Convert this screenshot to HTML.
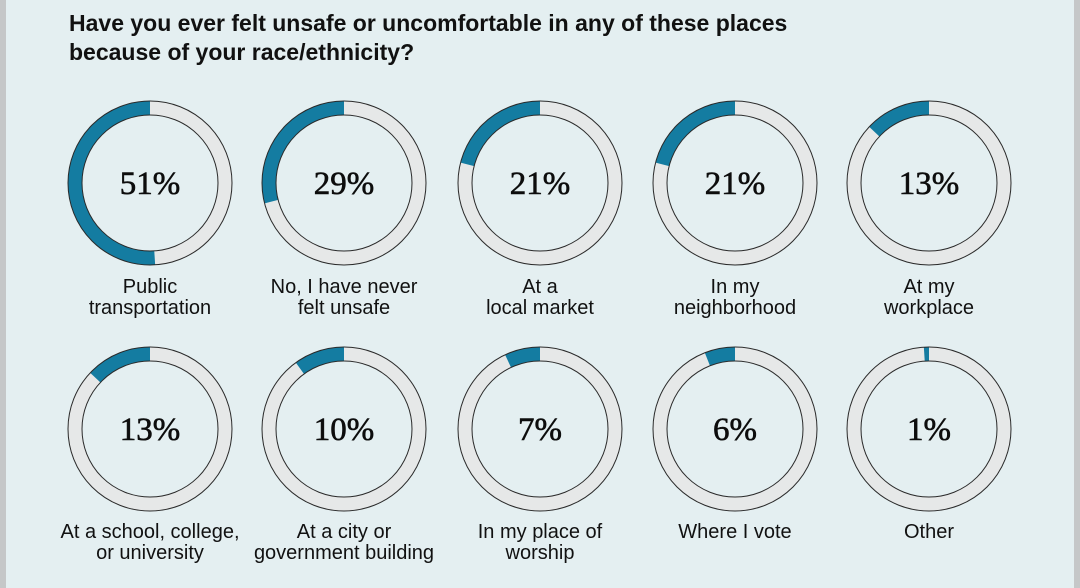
<!DOCTYPE html>
<html><head><meta charset="utf-8"><style>
html,body{margin:0;padding:0;}
body{width:1080px;height:588px;background:#e4eff1;position:relative;overflow:hidden;font-family:"Liberation Sans",sans-serif;}
.edge{position:absolute;top:0;bottom:0;background:#c5c7c8;}
h1{position:absolute;left:69px;top:9px;margin:0;font-size:23px;line-height:29px;font-weight:bold;color:#111;}
</style></head><body>
<div class="edge" style="left:0;width:6px"></div>
<div class="edge" style="right:0;width:6px"></div>
<h1>Have you ever felt unsafe or uncomfortable in any of these places<br>because of your race/ethnicity?</h1>
<svg id="chart" width="1080" height="588" style="position:absolute;left:0;top:0"></svg>
<script>
const values=[51,29,21,21,13,13,10,7,6,1];
const labelsA=["Public","No, I have never","At a","In my","At my","At a school, college,","At a city or","In my place of","Where I vote","Other"];
const labelsB=["transportation","felt unsafe","local market","neighborhood","workplace","or university","government building","worship","",""];
const NS="http://www.w3.org/2000/svg";
const svg=document.getElementById('chart');
const colX=[150,344,540,735,929], rowY=[183,429], labY=[[293,314],[538,559]];
const R=75, W=14;
function mk(t,a){const e=document.createElementNS(NS,t);for(const k in a)e.setAttribute(k,a[k]);return e;}
function pt(cx,cy,r,f){const a=-Math.PI/2-f*2*Math.PI;return [cx+r*Math.cos(a),cy+r*Math.sin(a)];}
values.forEach((v,i)=>{
  const cx=colX[i%5], cy=rowY[Math.floor(i/5)];
  const g=mk('g',{});
  
  
  const bg=mk('circle',{cx:cx,cy:cy,r:R,fill:'none',stroke:'#e6e8e8','stroke-width':W});
  
  
  g.appendChild(bg);
  const f=Math.min(v/100,0.9999);
  const [x0,y0]=pt(cx,cy,R,0),[x1,y1]=pt(cx,cy,R,f);
  const arc=mk('path',{d:`M${x0},${y0} A${R},${R} 0 ${f>0.5?1:0} 0 ${x1},${y1}`,fill:'none',stroke:'#147ca1','stroke-width':W});
  
  
  g.appendChild(arc);
  [R+W/2,R-W/2].forEach(r=>{const c=mk('circle',{cx:cx,cy:cy,r:r,fill:'none',stroke:'#2a2a2a','stroke-width':1});g.appendChild(c);});
  const t=mk('text',{x:cx,y:cy+11,'text-anchor':'middle','font-family':'Liberation Serif, serif','font-size':33,fill:'#0d0d0d',stroke:'#0d0d0d','stroke-width':0.6});
  t.textContent=v+'%';
  
  
  g.appendChild(t);
  const r=Math.floor(i/5);
  [labelsA[i],labelsB[i]].forEach((s,j)=>{if(!s)return;
    const l=mk('text',{x:cx,y:labY[r][j],'text-anchor':'middle','font-size':20,fill:'#111'});
    l.textContent=s;
    
    
    g.appendChild(l);});
  svg.appendChild(g);
});
</script>
</body></html>
